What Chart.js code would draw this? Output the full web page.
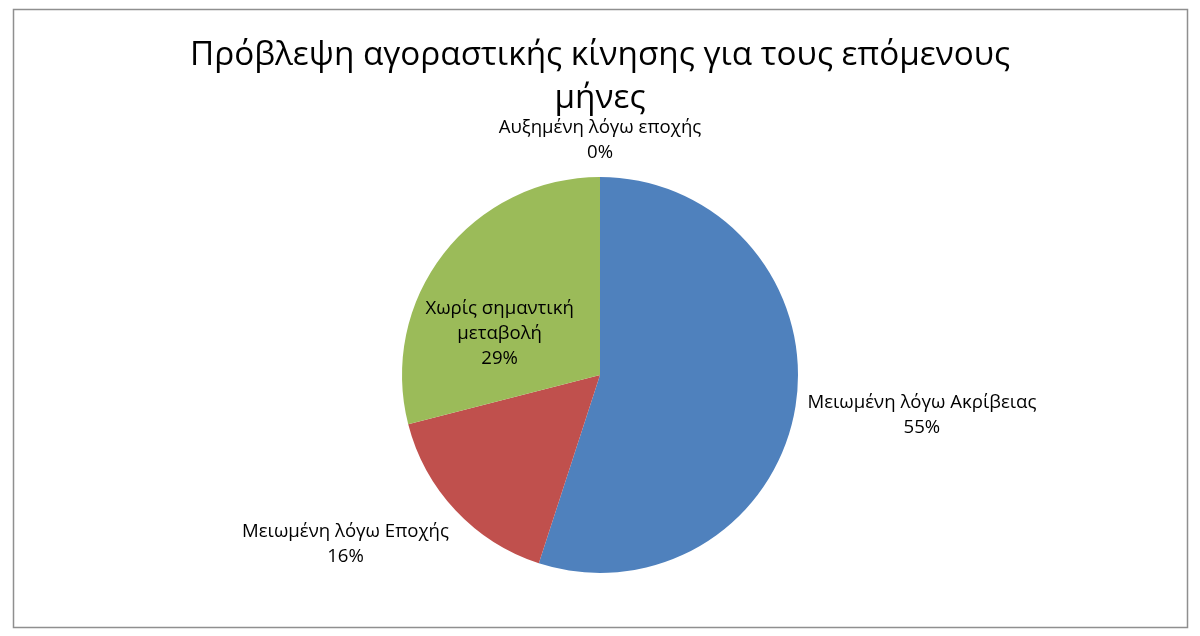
<!DOCTYPE html>
<html>
<head>
<meta charset="utf-8">
<script src="https://cdn.jsdelivr.net/npm/chart.js@4"></script>
<style>
html,body{margin:0;padding:0;background:#fff;}
#wrap{width:1200px;height:636px;position:relative;}
</style>
</head>
<body>
<div id="wrap"><canvas id="c" width="1200" height="636"></canvas></div>
<script>
const titleLines = ["Πρόβλεψη αγοραστικής κίνησης για τους επόμενους", "μήνες"];
const categories = ["Μειωμένη λόγω Ακρίβειας", "Μειωμένη λόγω Εποχής", "Χωρίς σημαντική μεταβολή", "Αυξημένη λόγω εποχής"];
const labelLines = [["Μειωμένη λόγω Ακρίβειας"], ["Μειωμένη λόγω Εποχής"], ["Χωρίς σημαντική", "μεταβολή"], ["Αυξημένη λόγω εποχής"]];
const values = [55, 16, 29, 0];
const colors = ["#4F81BD", "#C0504D", "#9BBB59", "#8064A2"];
const insideLabel = [false, false, true, false];

const FONT = "'Open Sans', 'Noto Sans', sans-serif";

const framePlugin = {
  id: 'frame',
  beforeDraw(chart) {
    const ctx = chart.ctx;
    ctx.save();
    ctx.fillStyle = '#fff';
    ctx.fillRect(0, 0, chart.width, chart.height);
    ctx.strokeStyle = '#8f8f8f';
    ctx.lineWidth = 1.5;
    ctx.strokeRect(13.5, 9.5, 1174, 618);
    ctx.fillStyle = '#000';
    ctx.textAlign = 'center';
    ctx.textBaseline = 'middle';
    ctx.font = "33.3px " + FONT;
    ctx.fillText(titleLines[0], 600, 56);
    ctx.fillText(titleLines[1], 600, 99);
    ctx.restore();
  }
};

const labelPlugin = {
  id: 'pielabels',
  afterDatasetsDraw(chart) {
    const ctx = chart.ctx;
    const meta = chart.getDatasetMeta(0);
    const total = values.reduce((a, b) => a + b, 0);
    ctx.save();
    ctx.fillStyle = '#000';
    ctx.font = "18.6px " + FONT;
    ctx.textAlign = 'center';
    ctx.textBaseline = 'middle';
    const lh = 25;
    meta.data.forEach((arc, i) => {
      const p = arc.getProps(['x', 'y', 'startAngle', 'endAngle', 'outerRadius'], true);
      const mid = (p.startAngle + p.endAngle) / 2;
      const ux = Math.cos(mid), uy = Math.sin(mid);
      const lines = labelLines[i].concat([Math.round(values[i] / total * 100) + '%']);
      const h = lines.length * lh;
      const w = Math.max(...lines.map(l => ctx.measureText(l).width));
      let cx, cy;
      if (insideLabel[i]) {
        const rr = p.outerRadius * 0.52;
        cx = p.x + ux * rr - 19;
        cy = p.y + uy * rr + 22;
      } else {
        const rr = p.outerRadius + 12;
        const ax = p.x + ux * rr, ay = p.y + uy * rr;
        const sx = Math.abs(ux) < 0.05 ? 0 : Math.sign(ux);
        cx = ax + sx * w / 2 + (sx < 0 ? 2 : 0);
        cy = ay + uy * h / 2 + (Math.abs(ux) < 0.05 ? 0 : 3) + (uy > 0.5 ? 5 : 0);
      }
      lines.forEach((l, k) => {
        ctx.fillText(l, cx, cy - h / 2 + lh / 2 + k * lh);
      });
    });
    ctx.restore();
  }
};

new Chart(document.getElementById('c'), {
  type: 'pie',
  data: {
    labels: categories,
    datasets: [{
      data: values,
      backgroundColor: colors,
      borderWidth: 0,
      hoverOffset: 0,
      offset: 0
    }]
  },
  options: {
    responsive: false,
    animation: false,
    layout: { padding: { top: 177, bottom: 63, left: 0, right: 0 } },
    plugins: {
      legend: { display: false },
      title: { display: false },
      tooltip: { enabled: false }
    }
  },
  plugins: [framePlugin, labelPlugin]
});
</script>
</body>
</html>
